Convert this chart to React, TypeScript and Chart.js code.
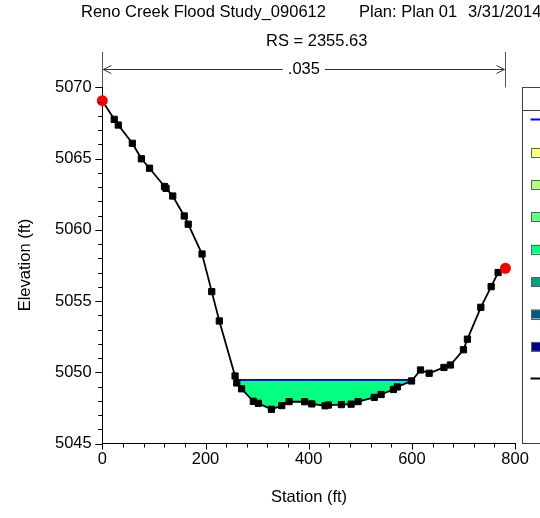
import React, { useEffect, useRef } from 'react';
import { Chart, registerables } from 'chart.js';

Chart.register(...registerables);

const FONT = '"Liberation Sans", Arial, Helvetica, sans-serif';
const FONT_SIZE = 16.5;

const titleParts = ['Reno Creek Flood Study_090612', 'Plan: Plan 01', '3/31/2014'];
const subtitle = 'RS = 2355.63';
const xAxisTitle = 'Station (ft)';
const yAxisTitle = 'Elevation (ft)';

const groundStation = [
  0, 23.1, 31.0, 58.2, 75.8, 91.5, 120.6, 123.5, 136.5, 158.8, 166.5, 193.3, 212.1, 226.8,
  257.3, 260.6, 269.9, 292.7, 302.4, 327.8, 347.8, 362.0, 392.2, 406.0, 431.8, 438.2, 463.4,
  482.2, 495.7, 527.1, 540.3, 564.2, 571.7, 599.3, 616.7, 633.4, 662.1, 674.7, 699.9, 707.6,
  733.6, 753.6, 767.1, 781.3,
];
const groundElevation = [
  5069.06, 5067.75, 5067.35, 5066.07, 5064.98, 5064.32, 5063.04, 5062.91, 5062.37, 5060.97,
  5060.39, 5058.30, 5055.66, 5053.60, 5049.74, 5049.25, 5048.84, 5047.96, 5047.82, 5047.40,
  5047.66, 5047.94, 5047.93, 5047.78, 5047.65, 5047.70, 5047.73, 5047.76, 5047.94, 5048.24,
  5048.44, 5048.79, 5048.97, 5049.39, 5050.16, 5049.93, 5050.34, 5050.51, 5051.58, 5052.32,
  5054.56, 5056.01, 5057.00, 5057.30,
];
const bankStations = [0, 781.3];
const wsElevation = 5049.46;
const wsStations = [259.2, 600.9];
const manningN = ['.035'];

const xRange = [0, 800];
const yRange = [5045, 5070];
const xTickLabels = [0, 200, 400, 600, 800];
const yTickLabels = [5045, 5050, 5055, 5060, 5065, 5070];
const xMinorStep = 40;
const yMinorStep = 1;

const legendSwatchColors = ['#ffff80', '#b4ff78', '#64ff80', '#00ff80', '#00a080', '#005a80', '#000090'];
const waterColor = '#05ff80';

function range(a: number, b: number, step: number) {
  const out: number[] = [];
  for (let v = a; v <= b + 1e-9; v += step) out.push(Math.round(v * 1000) / 1000);
  return out;
}

const overlayPlugin = {
  id: 'overlay',
  afterDraw(chart: any) {
    const { ctx, chartArea } = chart;
    const xs = chart.scales.x;
    const ys = chart.scales.y;
    ctx.save();
    // tick marks
    ctx.strokeStyle = '#000';
    ctx.lineWidth = 1;
    ctx.beginPath();
    for (const t of xs.ticks) {
      const px = Math.round(xs.getPixelForValue(t.value)) + 0.5;
      const len = xTickLabels.includes(t.value) ? 6 : 4;
      ctx.moveTo(px, chartArea.bottom);
      ctx.lineTo(px, chartArea.bottom + len);
    }
    for (const t of ys.ticks) {
      const py = Math.round(ys.getPixelForValue(t.value)) + 0.5;
      const len = yTickLabels.includes(t.value) ? 7 : 4;
      ctx.moveTo(chartArea.left, py);
      ctx.lineTo(chartArea.left - len, py);
    }
    ctx.stroke();

    // titles
    ctx.fillStyle = '#000';
    ctx.font = `${FONT_SIZE}px ${FONT}`;
    ctx.textAlign = 'left';
    ctx.textBaseline = 'alphabetic';
    ctx.fillText(titleParts[0], 81, 17.2);
    ctx.fillText(titleParts[1], 359, 17.2);
    ctx.fillText(titleParts[2], 468, 17.2);
    ctx.fillText(subtitle, 266, 45.5);

    // axis titles
    ctx.textAlign = 'center';
    ctx.textBaseline = 'middle';
    ctx.fillText(xAxisTitle, 309, 497);
    ctx.save();
    ctx.translate(25.5, 265);
    ctx.rotate(-Math.PI / 2);
    ctx.fillText(yAxisTitle, 0, 0);
    ctx.restore();

    // n-value annotation
    const xl = xs.getPixelForValue(bankStations[0]);
    const xr = xs.getPixelForValue(bankStations[1]);
    const ay = 69.5;
    ctx.strokeStyle = '#555';
    ctx.lineWidth = 1;
    ctx.beginPath();
    ctx.moveTo(Math.round(xl) + 0.5, 52);
    ctx.lineTo(Math.round(xl) + 0.5, chartArea.top);
    ctx.moveTo(Math.round(xr) + 0.5, 52);
    ctx.lineTo(Math.round(xr) + 0.5, chartArea.top);
    ctx.stroke();
    const mid = (xl + xr) / 2;
    const tw = ctx.measureText(manningN[0]).width;
    const gap = tw / 2 + 5;
    ctx.strokeStyle = '#333';
    ctx.beginPath();
    ctx.moveTo(xl + 1, ay);
    ctx.lineTo(mid - gap, ay);
    ctx.moveTo(mid + gap, ay);
    ctx.lineTo(xr - 1, ay);
    ctx.moveTo(xl + 9, ay - 4);
    ctx.lineTo(xl + 1, ay);
    ctx.lineTo(xl + 9, ay + 4);
    ctx.moveTo(xr - 9, ay - 4);
    ctx.lineTo(xr - 1, ay);
    ctx.lineTo(xr - 9, ay + 4);
    ctx.stroke();
    ctx.fillStyle = '#000';
    ctx.fillText(manningN[0], mid, ay);

    // legend box (partly off-canvas)
    ctx.strokeStyle = '#404040';
    ctx.lineWidth = 1;
    ctx.strokeRect(522.5, 87.5, 40, 356);
    ctx.beginPath();
    ctx.moveTo(522.5, 110.5);
    ctx.lineTo(560, 110.5);
    ctx.stroke();
    ctx.strokeStyle = '#0000ff';
    ctx.lineWidth = 2;
    ctx.beginPath();
    ctx.moveTo(530.5, 119.5);
    ctx.lineTo(560, 119.5);
    ctx.stroke();
    legendSwatchColors.forEach((c, i) => {
      const y = 147.5 + i * 32.4;
      ctx.fillStyle = c;
      ctx.fillRect(531, y, 20, 9);
      ctx.strokeStyle = '#606060';
      ctx.lineWidth = 1;
      ctx.strokeRect(531.5, Math.round(y) + 0.5, 20, 9);
    });
    ctx.strokeStyle = '#000';
    ctx.lineWidth = 2;
    ctx.beginPath();
    ctx.moveTo(530.5, 378.5);
    ctx.lineTo(560, 378.5);
    ctx.stroke();
    ctx.restore();
  },
};

export default function App() {
  const ref = useRef<HTMLCanvasElement | null>(null);
  useEffect(() => {
    document.body.style.margin = '0';
    const canvas = ref.current;
    if (!canvas) return;
    const ground = groundStation.map((x, i) => ({ x, y: groundElevation[i] }));
    const bank = bankStations.map((s) => ({ x: s, y: groundElevation[groundStation.indexOf(s)] }));
    const water = [
      { x: wsStations[0], y: wsElevation },
      ...ground.filter((p) => p.x > wsStations[0] && p.x < wsStations[1]),
      { x: wsStations[1], y: wsElevation },
    ];
    const ws = wsStations.map((x) => ({ x, y: wsElevation }));
    const chart = new Chart(canvas, {
      type: 'scatter',
      data: {
        datasets: [
          {
            label: 'Bank Sta',
            data: bank,
            showLine: false,
            pointStyle: 'circle',
            pointRadius: 5.5,
            pointBackgroundColor: '#ff0000',
            pointBorderColor: '#ff0000',
            pointBorderWidth: 0,
            clip: false,
            order: 0,
          } as any,
          {
            label: 'Ground',
            data: ground,
            showLine: true,
            borderColor: '#000',
            borderWidth: 1.8,
            pointStyle: 'rect',
            pointRadius: 4.4,
            pointBackgroundColor: '#000',
            pointBorderColor: '#000',
            pointBorderWidth: 1,
            clip: false,
            order: 1,
          },
          {
            label: 'WS PF 1',
            data: ws,
            showLine: true,
            borderColor: '#0000ff',
            borderWidth: 2,
            pointRadius: 0,
            order: 2,
          },
          {
            label: 'Water',
            data: water,
            showLine: true,
            borderWidth: 0,
            borderColor: 'rgba(0,0,0,0)',
            backgroundColor: waterColor,
            fill: 'shape',
            pointRadius: 0,
            order: 3,
          } as any,
        ],
      },
      options: {
        animation: false,
        responsive: false,
        devicePixelRatio: 1,
        layout: { padding: { left: 0, top: 87.3, right: 540 - 515.1, bottom: 0 } },
        plugins: { legend: { display: false }, title: { display: false }, tooltip: { enabled: false } },
        scales: {
          x: {
            type: 'linear',
            min: xRange[0],
            max: xRange[1],
            afterBuildTicks: (s: any) => {
              s.ticks = range(xRange[0], xRange[1], xMinorStep).map((value) => ({ value }));
            },
            afterFit: (s: any) => {
              s.height = 518 - 443.5;
            },
            grid: { display: false, drawTicks: false },
            border: { display: true, color: '#000', width: 1 },
            ticks: {
              autoSkip: false,
              maxRotation: 0,
              padding: 6,
              color: '#000',
              font: { family: FONT, size: FONT_SIZE },
              callback: (v: any) => (xTickLabels.includes(Number(v)) ? String(v) : ''),
            },
          },
          y: {
            type: 'linear',
            min: yRange[0],
            max: yRange[1],
            afterBuildTicks: (s: any) => {
              s.ticks = range(yRange[0], yRange[1], yMinorStep).map((value) => ({ value }));
            },
            afterFit: (s: any) => {
              s.width = 102.3;
            },
            grid: { display: false, drawTicks: false },
            border: { display: true, color: '#000', width: 1 },
            ticks: {
              autoSkip: false,
              padding: 10.6,
              color: '#000',
              font: { family: FONT, size: FONT_SIZE },
              callback: (v: any) => (yTickLabels.includes(Number(v)) ? String(v) : ''),
            },
          },
        },
      },
      plugins: [overlayPlugin],
    });
    return () => chart.destroy();
  }, []);
  return (
    <div style={{ width: 540, height: 518, position: 'relative', overflow: 'hidden' }}>
      <canvas ref={ref} width={540} height={518} style={{ display: 'block', width: 540, height: 518 }} />
    </div>
  );
}
